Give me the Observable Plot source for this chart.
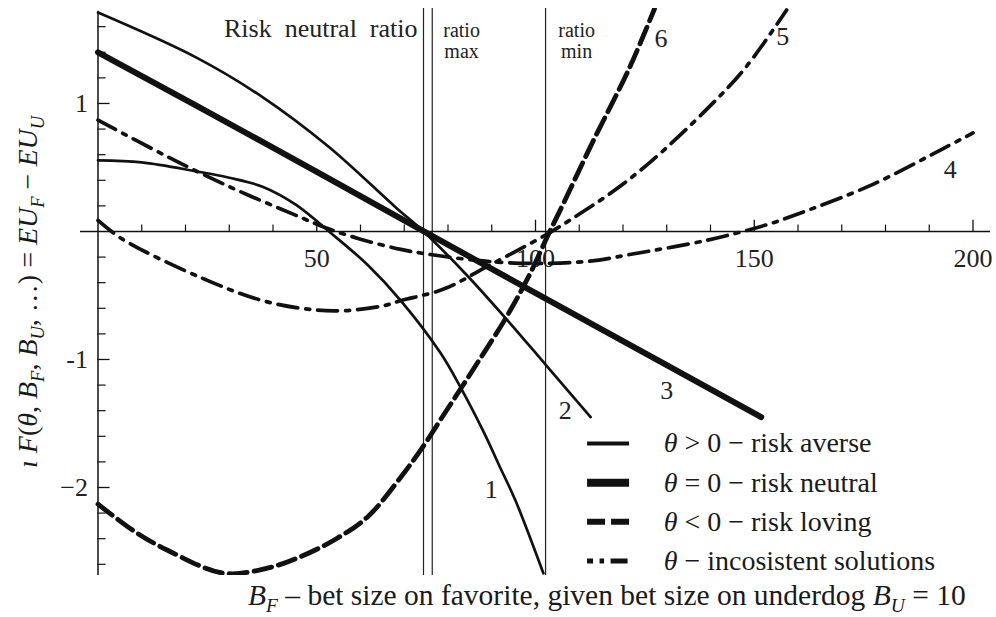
<!DOCTYPE html>
<html><head><meta charset="utf-8">
<script src="https://cdn.jsdelivr.net/npm/d3@7"></script>
<script src="https://cdn.jsdelivr.net/npm/@observablehq/plot@0.6"></script>
<style>html,body{margin:0;padding:0;background:#fff;} svg{display:block;}</style>
</head><body><div id="chart"></div>
<script>
// ---- data ----
const curve1 = [[0,0.555],[10,0.54],[22.4,0.47],[30,0.42],[37.6,0.35],[45.2,0.21],[52.8,0.0],[61.6,-0.26],[69.2,-0.54],[78.3,-0.95],[82.9,-1.22],[88.2,-1.57],[92,-1.85],[95.4,-2.1],[101.8,-2.67]];
const curve2 = [[0,1.71],[22.4,1.36],[37.6,1.05],[52.8,0.66],[68,0.19],[74.4,0],[84,-0.33],[93.5,-0.69],[102.3,-1.04],[112.6,-1.45]];
const curve3 = [[0,1.40],[37.6,0.70],[74.5,0],[114.9,-0.76],[151.6,-1.45]];
const curve4 = [[0,0.87],[15,0.6],[30,0.35],[45,0.13],[52,0.03],[60,-0.06],[69.2,-0.14],[76,-0.18],[88,-0.23],[100,-0.25],[113,-0.23],[121.5,-0.18],[139,-0.07],[152.6,0.05],[159,0.125],[176.6,0.36],[193.3,0.65],[200,0.77]];
const curve5 = [[0,0.086],[5.6,-0.06],[23.5,-0.36],[38.7,-0.55],[54,-0.62],[65.3,-0.58],[69.2,-0.54],[79,-0.45],[89.7,-0.26],[102.7,-0.02],[110.2,0.14],[118,0.32],[126.5,0.55],[139,0.95],[148,1.28],[157.4,1.73]];
const curve6 = [[0,-2.13],[8.2,-2.34],[15.9,-2.49],[28.8,-2.67],[38.7,-2.63],[46.3,-2.54],[54,-2.41],[61.6,-2.23],[69.2,-1.92],[74.5,-1.67],[78.3,-1.47],[85.9,-1.07],[93.5,-0.66],[98.9,-0.32],[102.7,-0.04],[106.4,0.22],[112.8,0.68],[121.5,1.28],[127.2,1.74]];

const curveLabels = [
  {label:"1", x:89.9, y:-2.02},
  {label:"2", x:106.8, y:-1.40},
  {label:"3", x:130, y:-1.24},
  {label:"4", x:194.8, y:0.48},
  {label:"5", x:156.5, y:1.52},
  {label:"6", x:128.7, y:1.51}
];
const riskNeutralRatio = 74.4;
const ratioMax = 76.4;
const ratioMin = 102.3;

const xMinorTicks = [10,20,30,40,60,70,80,90,110,120,130,140,160,170,180,190];
const xMajorTicks = [50,100,150,200];
const xTickLabels = ["50","100","150","200"];
const yMinorTicks = [-2.6,-2.4,-2.2,-1.8,-1.6,-1.4,-1.2,-0.8,-0.6,-0.4,-0.2,0.2,0.4,0.6,0.8,1.2,1.4,1.6];
const yMajorTicks = [-2,-1,1];
const yTickLabels = ["−2","-1","1"];

const legendLabels = ["θ > 0 − risk averse","θ = 0 − risk neutral","θ < 0 − risk loving","θ − incosistent solutions"];

// ---- layout ----
const xDom = [-4, 204], yDom = [-2.6875, 1.742];
const FONT = "'Liberation Serif', 'Times New Roman', serif";
const ink = "#111";

const styles = {
  thin: {stroke: ink, strokeWidth: 2.7},
  thick: {stroke: ink, strokeWidth: 6},
  dashed: {stroke: ink, strokeWidth: 4.8, strokeDasharray: "18,7"},
  dashdot: {stroke: ink, strokeWidth: 3.7, strokeDasharray: "20,8,4,8"}
};
const lineOf = (pts, st) => Plot.line(pts, {x: d => d[0], y: d => d[1], curve: "catmull-rom", clip: true, ...st});

// legend geometry in data units
const legX1 = 111.9, legX2 = 121.5, legY0 = -1.656, legStep = 0.306;
const legendStyles = [
  {stroke: ink, strokeWidth: 4},
  {stroke: ink, strokeWidth: 8},
  {stroke: ink, strokeWidth: 6, strokeDasharray: "18,6"},
  {stroke: ink, strokeWidth: 5, strokeDasharray: "17,6.5,4.5,6.5", strokeDashoffset: 11}
];

const marks = [
  Plot.ruleX([riskNeutralRatio, ratioMax, ratioMin], {x: d => d, y1: yDom[0], y2: yDom[1], stroke: "#222", strokeWidth: 1.2}),
  Plot.ruleY([0], {x1: xDom[0], x2: xDom[1], stroke: ink, strokeWidth: 1.5}),
  Plot.ruleX([0], {y1: yDom[0], y2: 1.72, stroke: ink, strokeWidth: 1.5}),
  Plot.ruleX(xMinorTicks, {x: d => d, y1: 0, y2: 0.05, stroke: ink, strokeWidth: 1.2}),
  Plot.ruleX(xMajorTicks, {x: d => d, y1: 0, y2: 0.088, stroke: ink, strokeWidth: 1.3}),
  Plot.ruleY(yMinorTicks, {y: d => d, x1: 0, x2: 1.85, stroke: ink, strokeWidth: 1.2}),
  Plot.ruleY(yMajorTicks, {y: d => d, x1: 0, x2: 2.75, stroke: ink, strokeWidth: 1.3}),
  Plot.text(xMajorTicks, {x: d => d, y: 0, text: (d, i) => xTickLabels[i], dy: 27, fontSize: 26, fill: "#222"}),
  Plot.text(yMajorTicks, {x: 0, y: d => d, text: (d, i) => yTickLabels[i], dx: -10, textAnchor: "end", fontSize: 26, fill: "#222"}),
  lineOf(curve1, styles.thin),
  lineOf(curve2, styles.thin),
  lineOf(curve3, styles.thick),
  lineOf(curve4, styles.dashdot),
  lineOf(curve5, styles.dashdot),
  lineOf(curve6, styles.dashed),
  Plot.text(curveLabels, {x: "x", y: "y", text: "label", fontSize: 26, fill: "#222"}),
  Plot.text(["Risk\u00a0 neutral\u00a0 ratio"], {x: riskNeutralRatio, y: 1.583, text: d => d, dx: -6, textAnchor: "end", fontSize: 26, fill: "#222"}),
  Plot.text(["ratio\nmax"], {x: 83.1, y: 1.634, text: d => d, lineAnchor: "top", lineHeight: 1.05, fontSize: 20, fill: "#222"}),
  Plot.text(["ratio\nmin"], {x: 109.4, y: 1.634, text: d => d, lineAnchor: "top", lineHeight: 1.05, fontSize: 20, fill: "#222"}),
  ...legendLabels.map((lab, i) => Plot.ruleY([lab], {y: () => legY0 - i * legStep, x1: legX1, x2: legX2, ...legendStyles[i]}))
];

const plot = Plot.plot({
  width: 996, height: 617,
  marginLeft: 80, marginRight: 6, marginTop: 8, marginBottom: 42,
  x: {domain: xDom, axis: null},
  y: {domain: yDom, axis: null},
  style: {fontFamily: FONT, background: "#fff", color: ink, overflow: "visible"},
  marks
});
document.getElementById("chart").appendChild(plot);

// ---- rich text (italic letters, subscripts) ----
const svg = d3.select(plot);
const sx = plot.scale("x"), sy = plot.scale("y");
function rich(sel, segs, size) {
  const t = sel.append("text")
    .attr("font-family", FONT).attr("font-size", size).attr("fill", "#1a1a1a")
    .attr("text-anchor", "start")
    .style("white-space", "pre");
  let shift = 0;
  segs.forEach(s => {
    const want = s.sub ? size * 0.24 : 0;
    const ts = t.append("tspan").text(s.t);
    if (s.i) ts.attr("font-style", "italic");
    if (s.sub) ts.attr("font-size", size * 0.66);
    if (want !== shift) { ts.attr("dy", want - shift); shift = want; }
  });
  return t;
}

// x-axis title
rich(svg, [
  {t: "B", i: true}, {t: "F", i: true, sub: true}, {t: " – bet size on favorite, given bet size on underdog "},
  {t: "B", i: true}, {t: "U", i: true, sub: true}, {t: " = 10"}
], 29.5).attr("x", 248).attr("y", 605);

// y-axis title
rich(svg.append("g").attr("transform", "translate(37,468) rotate(-90)"), [
  {t: "ı ", i: true}, {t: "F", i: true}, {t: "("}, {t: "θ", i: true}, {t: ", "},
  {t: "B", i: true}, {t: "F", i: true, sub: true}, {t: ", "},
  {t: "B", i: true}, {t: "U", i: true, sub: true}, {t: ", …) = "},
  {t: "E", i: true}, {t: "U", i: true}, {t: "F", i: true, sub: true}, {t: " − "},
  {t: "E", i: true}, {t: "U", i: true}, {t: "U", i: true, sub: true}
], 28).attr("x", 0).attr("y", 0);

// legend texts
legendLabels.forEach((lab, i) => {
  const yy = sy.apply(legY0 - i * legStep) + 9.5;
  rich(svg, [{t: lab.slice(0, 1), i: true}, {t: lab.slice(1)}], 28)
    .attr("x", sx.apply(129.4)).attr("y", yy);
});
</script>
</body></html>
